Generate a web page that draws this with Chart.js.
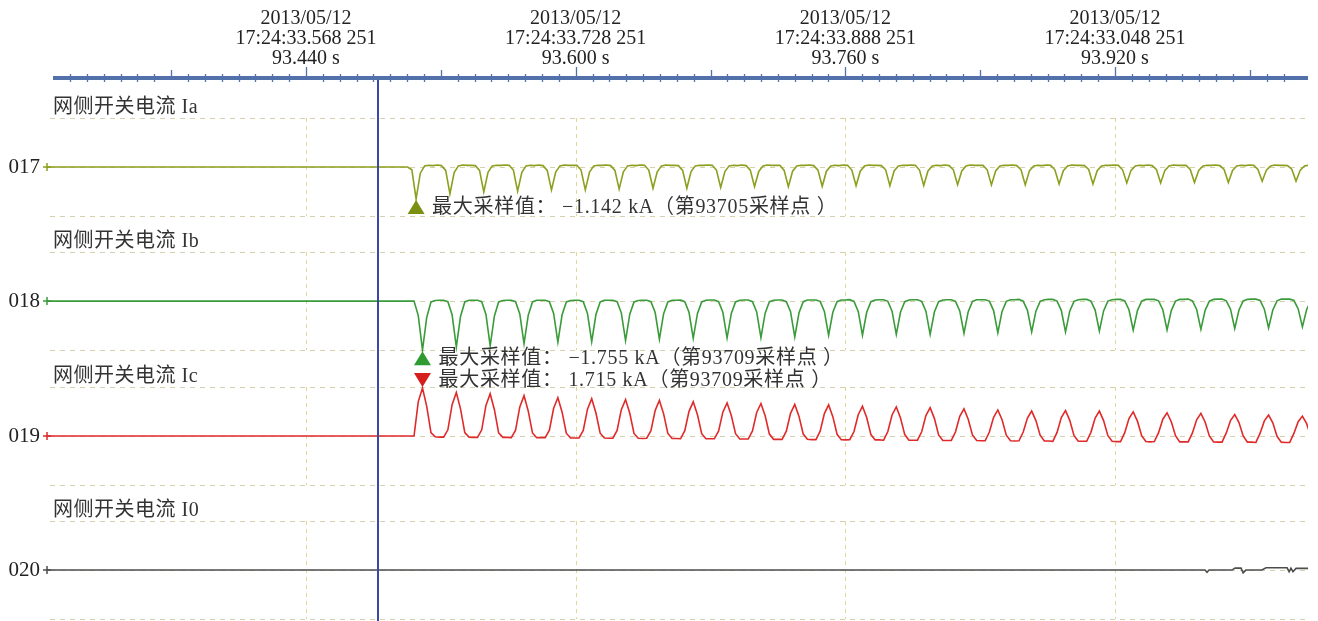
<!DOCTYPE html>
<html>
<head>
<meta charset="utf-8">
<script src="https://cdn.jsdelivr.net/npm/chart.js@4/dist/chart.umd.min.js"></script>
<style>
  html, body { margin: 0; padding: 0; background: #fff; }
  #wrap { position: relative; width: 1318px; height: 621px; }
</style>
</head>
<body>
<div id="wrap"><canvas id="rec"></canvas></div>
<script>
// ---------- record window and time base (seconds since trigger) ----------
const viewStart = 93.28633;
const viewEnd = 94.03451;
const cursorTime = 93.48272;
const sampleStep = 0.00251;

const recordDate = '2013/05/12';
const majorSeconds = [93.440, 93.600, 93.760, 93.920];
const majorClock = ['17:24:33.568 251', '17:24:33.728 251', '17:24:33.888 251', '17:24:33.048 251'];

const channelIds = ['017', '018', '019', '020'];
const channelNames = ['网侧开关电流 Ia', '网侧开关电流 Ib', '网侧开关电流 Ic', '网侧开关电流 I0'];
const peakSampleNo = [93705, 93709, 93709];

// ---------- phase currents, kA, one row per power cycle ----------
const iaStart = 93.5003;
const iaSamples = [
  [0.00, -0.10, -1.142, -0.22, 0.04, 0.06, 0.05, 0.07],
  [0.05, -0.12, -0.96, -0.20, 0.04, 0.07, 0.06, 0.06],
  [0.05, -0.12, -0.89, -0.19, 0.04, 0.06, 0.06, 0.07],
  [0.06, -0.11, -0.86, -0.19, 0.04, 0.06, 0.05, 0.07],
  [0.05, -0.12, -0.82, -0.18, 0.04, 0.07, 0.06, 0.06],
  [0.06, -0.11, -0.82, -0.18, 0.04, 0.06, 0.06, 0.07],
  [0.05, -0.12, -0.79, -0.17, 0.04, 0.06, 0.05, 0.07],
  [0.06, -0.11, -0.76, -0.17, 0.04, 0.07, 0.06, 0.06],
  [0.05, -0.12, -0.76, -0.16, 0.04, 0.06, 0.06, 0.07],
  [0.06, -0.11, -0.73, -0.16, 0.04, 0.06, 0.05, 0.07],
  [0.05, -0.11, -0.70, -0.16, 0.04, 0.07, 0.06, 0.06],
  [0.06, -0.12, -0.70, -0.15, 0.04, 0.06, 0.06, 0.07],
  [0.05, -0.11, -0.69, -0.15, 0.04, 0.06, 0.05, 0.07],
  [0.06, -0.11, -0.67, -0.15, 0.04, 0.07, 0.06, 0.06],
  [0.05, -0.10, -0.67, -0.14, 0.04, 0.06, 0.06, 0.07],
  [0.06, -0.11, -0.66, -0.14, 0.04, 0.06, 0.05, 0.07],
  [0.05, -0.10, -0.63, -0.14, 0.04, 0.07, 0.06, 0.06],
  [0.06, -0.10, -0.64, -0.14, 0.04, 0.06, 0.06, 0.07],
  [0.05, -0.10, -0.64, -0.13, 0.04, 0.06, 0.05, 0.07],
  [0.06, -0.10, -0.61, -0.13, 0.04, 0.07, 0.06, 0.06],
  [0.05, -0.09, -0.61, -0.13, 0.04, 0.06, 0.06, 0.07],
  [0.06, -0.10, -0.57, -0.12, 0.04, 0.06, 0.05, 0.07],
  [0.05, -0.09, -0.57, -0.12, 0.04, 0.07, 0.06, 0.06],
  [0.06, -0.09, -0.55, -0.12, 0.04, 0.06, 0.06, 0.07],
  [0.05, -0.09, -0.55, -0.12, 0.04, 0.06, 0.05, 0.07],
  [0.06, -0.09, -0.51, -0.11, 0.04, 0.07, 0.06, 0.06],
  [0.05, -0.08, -0.51, -0.11, 0.04, 0.06, 0.06, 0.07]
];

const ibStart = 93.5041;
const ibSamples = [
  [0.00, -0.52, -1.755, -0.58, -0.03, 0.02, 0.03, 0.03],
  [-0.02, -0.49, -1.64, -0.54, -0.03, 0.03, 0.03, 0.03],
  [-0.02, -0.48, -1.60, -0.53, -0.03, 0.02, 0.03, 0.03],
  [-0.02, -0.46, -1.52, -0.50, -0.03, 0.03, 0.03, 0.03],
  [-0.02, -0.44, -1.47, -0.49, -0.03, 0.02, 0.03, 0.03],
  [-0.02, -0.44, -1.45, -0.48, -0.03, 0.03, 0.03, 0.03],
  [-0.02, -0.42, -1.41, -0.47, -0.03, 0.02, 0.03, 0.03],
  [-0.02, -0.41, -1.36, -0.45, -0.03, 0.03, 0.03, 0.04],
  [-0.02, -0.40, -1.33, -0.44, -0.03, 0.03, 0.04, 0.04],
  [-0.02, -0.40, -1.32, -0.44, -0.03, 0.03, 0.04, 0.04],
  [-0.02, -0.39, -1.31, -0.43, -0.02, 0.03, 0.04, 0.04],
  [-0.02, -0.38, -1.28, -0.42, -0.02, 0.04, 0.04, 0.04],
  [-0.01, -0.37, -1.22, -0.40, -0.02, 0.04, 0.04, 0.05],
  [-0.01, -0.37, -1.22, -0.40, -0.02, 0.04, 0.05, 0.05],
  [-0.01, -0.36, -1.19, -0.39, -0.02, 0.04, 0.05, 0.05],
  [-0.01, -0.36, -1.19, -0.39, -0.02, 0.04, 0.05, 0.05],
  [-0.01, -0.35, -1.15, -0.38, -0.01, 0.05, 0.05, 0.05],
  [0.00, -0.34, -1.13, -0.37, -0.01, 0.05, 0.05, 0.06],
  [0.00, -0.33, -1.10, -0.36, -0.01, 0.05, 0.06, 0.06],
  [0.00, -0.33, -1.10, -0.36, -0.01, 0.05, 0.06, 0.06],
  [0.00, -0.32, -1.07, -0.35, 0.00, 0.05, 0.06, 0.06],
  [0.01, -0.31, -1.04, -0.34, 0.00, 0.06, 0.06, 0.06],
  [0.01, -0.31, -1.03, -0.34, 0.00, 0.06, 0.06, 0.07],
  [0.01, -0.30, -1.01, -0.33, 0.00, 0.06, 0.07, 0.07],
  [0.01, -0.29, -0.98, -0.32, 0.01, 0.06, 0.07, 0.07],
  [0.02, -0.29, -0.96, -0.32, 0.01, 0.07, 0.07, 0.07],
  [0.02, -0.28, -0.92, -0.30, 0.01, 0.07, 0.07, 0.07]
];

const icStart = 93.5041;
const icSamples = [
  [0.00, 1.23, 1.715, 1.06, 0.12, -0.03, -0.04, -0.04],
  [0.22, 1.12, 1.55, 0.96, 0.12, -0.04, -0.05, -0.05],
  [0.22, 1.09, 1.51, 0.94, 0.11, -0.05, -0.05, -0.06],
  [0.21, 1.04, 1.44, 0.89, 0.11, -0.06, -0.06, -0.06],
  [0.21, 0.99, 1.37, 0.85, 0.10, -0.07, -0.07, -0.07],
  [0.20, 0.96, 1.33, 0.82, 0.10, -0.07, -0.08, -0.08],
  [0.20, 0.94, 1.30, 0.81, 0.09, -0.08, -0.09, -0.08],
  [0.19, 0.91, 1.27, 0.79, 0.09, -0.09, -0.09, -0.10],
  [0.19, 0.88, 1.22, 0.76, 0.08, -0.10, -0.10, -0.10],
  [0.18, 0.85, 1.18, 0.73, 0.08, -0.11, -0.11, -0.11],
  [0.18, 0.84, 1.16, 0.72, 0.07, -0.12, -0.12, -0.12],
  [0.17, 0.81, 1.13, 0.70, 0.07, -0.12, -0.13, -0.13],
  [0.17, 0.80, 1.11, 0.69, 0.06, -0.13, -0.14, -0.13],
  [0.16, 0.76, 1.06, 0.66, 0.05, -0.14, -0.14, -0.15],
  [0.16, 0.75, 1.04, 0.64, 0.05, -0.15, -0.15, -0.15],
  [0.15, 0.73, 1.01, 0.63, 0.04, -0.16, -0.16, -0.16],
  [0.15, 0.70, 0.97, 0.60, 0.04, -0.16, -0.17, -0.17],
  [0.14, 0.67, 0.93, 0.58, 0.03, -0.17, -0.18, -0.17],
  [0.14, 0.64, 0.89, 0.55, 0.03, -0.18, -0.18, -0.19],
  [0.13, 0.66, 0.91, 0.56, 0.02, -0.19, -0.19, -0.19],
  [0.13, 0.64, 0.89, 0.55, 0.02, -0.19, -0.20, -0.20],
  [0.12, 0.62, 0.86, 0.53, 0.01, -0.20, -0.21, -0.20],
  [0.12, 0.60, 0.83, 0.51, 0.01, -0.21, -0.21, -0.21],
  [0.11, 0.58, 0.81, 0.50, 0.00, -0.21, -0.22, -0.22],
  [0.11, 0.55, 0.77, 0.48, 0.00, -0.22, -0.22, -0.23],
  [0.10, 0.54, 0.75, 0.47, -0.01, -0.22, -0.23, -0.23],
  [0.10, 0.51, 0.71, 0.44, -0.01, -0.23, -0.23, -0.24]
];

// residual current: flat until the last few cycles
const i0Times = [93.28633, 93.9734, 93.9746, 93.9758, 93.9894, 93.9912, 93.9948, 93.9960, 93.9977,
                 94.0072, 94.0096, 94.0221, 94.0233, 94.0244, 94.0256, 94.0274, 94.03451];
const i0Values = [0, 0, -0.08, 0, 0, 0.07, 0.07, -0.10, 0, 0, 0.08, 0.08, -0.06, 0.07, -0.06, 0.06, 0.06];

// ---------- layout of the four lanes on one shared kA axis ----------
const laneBase = [-3.18, -7.97, -12.79, -17.58];
const laneHalf = 1.75;
const laneColors = ['#8c9f1e', '#3a9b3a', '#e02a2a', '#4d4d4d'];
const markColors = ['#7d8f12', '#2f9a2f', '#d61e1e'];
const serif = '"Liberation Serif", "Noto Sans CJK SC", serif';

function laneSeries(start, rows, lane) {
  const pts = [{ x: viewStart, y: laneBase[lane] }];
  rows.flat().forEach((v, i) => pts.push({ x: start + i * sampleStep, y: laneBase[lane] + v }));
  return pts;
}

function extreme(start, rows, wantMax) {
  const flat = rows.flat();
  let k = 0;
  flat.forEach((v, i) => { if (wantMax ? v > flat[k] : v < flat[k]) k = i; });
  return { t: start + k * sampleStep, v: flat[k] };
}

function fmtKA(v) {
  return (v < 0 ? '−' : '') + Math.abs(v).toFixed(3);
}

const marks = [
  Object.assign(extreme(iaStart, iaSamples, false), { lane: 0, up: true }),
  Object.assign(extreme(ibStart, ibSamples, false), { lane: 1, up: true }),
  Object.assign(extreme(icStart, icSamples, true), { lane: 2, up: false })
];

const datasets = [
  laneSeries(iaStart, iaSamples, 0),
  laneSeries(ibStart, ibSamples, 1),
  laneSeries(icStart, icSamples, 2),
  i0Times.map((t, i) => ({ x: t, y: laneBase[3] + i0Values[i] }))
].map((data, i) => ({
  label: channelNames[i],
  data,
  borderColor: laneColors[i],
  borderWidth: 1.6,
  tension: 0,
  pointStyle: 'cross',
  pointRadius: c => (c.dataIndex === 0 ? 4 : 0),
  pointBorderColor: laneColors[i],
  pointBorderWidth: 1.5,
  clip: { left: 10, top: 0, right: 0, bottom: 0 }
}));

function seg(ctx, x1, y1, x2, y2) {
  ctx.beginPath(); ctx.moveTo(x1, y1); ctx.lineTo(x2, y2); ctx.stroke();
}

const recorderDecor = {
  id: 'recorderDecor',
  beforeDatasetsDraw(chart) {
    const { ctx, chartArea: a, scales: { x, y } } = chart;
    ctx.save();
    ctx.lineWidth = 1;
    ctx.setLineDash([5, 5]);
    ctx.strokeStyle = 'rgba(200,194,145,0.75)';
    laneBase.forEach(b => {
      [b + laneHalf, b, b - laneHalf].forEach(v => {
        const py = Math.round(y.getPixelForValue(v)) + 0.5;
        seg(ctx, 50, py, a.right, py);
      });
    });
    ctx.setLineDash([4, 4]);
    ctx.strokeStyle = 'rgba(220,210,140,0.9)';
    majorSeconds.forEach(s => {
      const px = Math.round(x.getPixelForValue(s)) + 0.5;
      laneBase.forEach(b => seg(ctx, px, y.getPixelForValue(b + laneHalf), px, y.getPixelForValue(b - laneHalf)));
    });
    ctx.setLineDash([]);
    ctx.fillStyle = '#333';
    ctx.font = '20px ' + serif;
    ctx.letterSpacing = '0.5px';
    ctx.textAlign = 'left';
    ctx.textBaseline = 'middle';
    channelNames.forEach((n, i) => ctx.fillText(n, 53, y.getPixelForValue(laneBase[i]) - 59));
    ctx.restore();
  },
  afterDatasetsDraw(chart) {
    const { ctx, chartArea: a, scales: { x, y } } = chart;
    ctx.save();
    // cursor
    const cx = Math.round(x.getPixelForValue(cursorTime));
    ctx.strokeStyle = '#3b46a6';
    ctx.lineWidth = 2;
    seg(ctx, cx, a.top, cx, a.bottom);
    // time axis rule and tick marks
    ctx.fillStyle = '#5270aa';
    ctx.fillRect(53, a.top - 2, a.right - 53, 4);
    ctx.strokeStyle = '#5270aa';
    ctx.lineWidth = 1.3;
    x.ticks.forEach(t => {
      const n = Math.round(t.value * 100);
      if (Math.abs(t.value * 100 - n) > 1e-6) return;
      const px = Math.round(x.getPixelForValue(t.value)) + 0.5;
      if (px < 55) return;
      if (n % 16 === 0) seg(ctx, px, a.top - 11, px, a.top + 1);
      else if (n % 8 === 0) seg(ctx, px, a.top - 8, px, a.top + 2);
      else seg(ctx, px, a.top - 4, px, a.top + 4);
    });
    // extreme-sample markers
    ctx.font = '20px ' + serif;
    ctx.letterSpacing = '0.7px';
    ctx.textAlign = 'left';
    ctx.textBaseline = 'middle';
    marks.forEach((m, i) => {
      const px = x.getPixelForValue(m.t);
      const py = y.getPixelForValue(laneBase[m.lane] + m.v);
      ctx.fillStyle = markColors[i];
      ctx.beginPath();
      if (m.up) {
        ctx.moveTo(px, py + 1); ctx.lineTo(px + 8.5, py + 15); ctx.lineTo(px - 8.5, py + 15);
      } else {
        ctx.moveTo(px, py - 1); ctx.lineTo(px + 8.5, py - 15); ctx.lineTo(px - 8.5, py - 15);
      }
      ctx.closePath(); ctx.fill();
      const ty = m.up ? py + 9 : py - 7;
      ctx.fillStyle = '#333';
      ctx.fillText('最大采样值： ' + fmtKA(m.v) + ' kA（第' + peakSampleNo[i] + '采样点 ）', px + 16, ty);
    });
    ctx.restore();
  }
};

new Chart(document.getElementById('rec'), {
  type: 'line',
  data: { datasets },
  options: {
    responsive: true,
    maintainAspectRatio: false,
    animation: false,
    events: [],
    layout: { autoPadding: false, padding: { left: 0, top: 0, right: 10, bottom: 0 } },
    plugins: { legend: { display: false }, tooltip: { enabled: false } },
    scales: {
      x: {
        type: 'linear',
        position: 'top',
        min: viewStart,
        max: viewEnd,
        grid: { display: false, drawTicks: false },
        border: { display: false },
        afterFit: s => { s.height = 78; s.paddingLeft = 0; s.paddingRight = 0; },
        ticks: {
          stepSize: 0.01,
          includeBounds: true,
          autoSkip: false,
          maxRotation: 0,
          minRotation: 0,
          padding: 9,
          color: '#222',
          font: { family: serif, size: 20, lineHeight: 1 },
          callback: v => {
            const k = majorSeconds.findIndex(s => Math.abs(s - v) < 1e-6);
            return k < 0 ? '' : [recordDate, majorClock[k], majorSeconds[k].toFixed(3) + ' s'];
          }
        }
      },
      y: {
        type: 'linear',
        position: 'left',
        min: -19.4,
        max: 0,
        bounds: 'data',
        grid: { display: false, drawTicks: false },
        border: { display: false },
        afterBuildTicks: s => { s.ticks = laneBase.map(v => ({ value: v })); },
        afterFit: s => { s.width = 47; s.paddingTop = 0; s.paddingBottom = 0; },
        ticks: {
          padding: 7,
          color: '#222',
          font: { family: serif, size: 21 },
          callback: (v, i) => channelIds[i]
        }
      }
    }
  },
  plugins: [recorderDecor]
});
</script>
</body>
</html>
